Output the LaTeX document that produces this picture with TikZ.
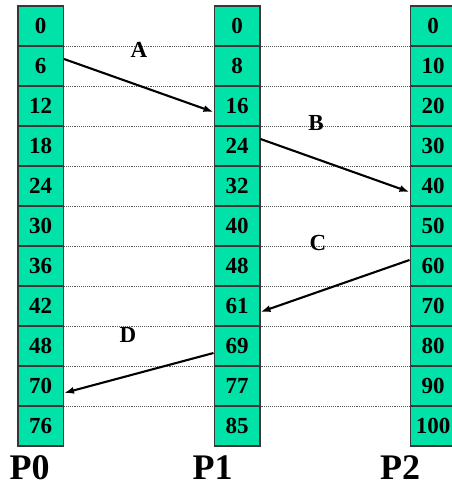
\documentclass[tikz,border=0pt]{standalone}
\usepackage{fontspec}
\setmainfont{Liberation Serif}
\usetikzlibrary{arrows.meta,positioning,calc}
\definecolor{zold}{RGB}{0,226,168}
\definecolor{keret}{RGB}{55,55,55}
\tikzset{
  cella/.style={draw=keret,line width=1.5pt,fill=zold,minimum width=45.5pt,minimum height=40pt,
                inner sep=0pt,font=\fontsize{23}{25}\selectfont\bfseries},
  pont/.style={densely dotted,gray!70!black,line width=0.9pt},
  nyil/.style={-{Latex[length=10pt,width=7pt]},line width=2.1pt},
  betu/.style={font=\fontsize{23}{25}\selectfont\bfseries,inner sep=0pt},
  proc/.style={font=\fontsize{36}{38}\selectfont\bfseries,inner sep=0pt},
}

\begin{document}
\begin{tikzpicture}[x=1pt,y=-1pt]
  \useasboundingbox (0,0) rectangle (452,488);
  % oszlopok
  \foreach \v [count=\i from 0] in {0,6,12,18,24,30,36,42,48,70,76}
    \node[cella] (p0-\i) at (40.5,26+40*\i) {\v};
  \foreach \v [count=\i from 0] in {0,8,16,24,32,40,48,61,69,77,85}
    \node[cella] (p1-\i) at (237,26+40*\i) {\v};
  \foreach \v [count=\i from 0] in {0,10,20,30,40,50,60,70,80,90,100}
    \node[cella] (p2-\i) at (433,26+40*\i) {\v};
  % szaggatott vonalak
  \foreach \i in {0,...,9}
    \draw[pont] (p0-\i.south east) -- (p1-\i.south west) (p1-\i.south east) -- (p2-\i.south west);
  % uzenetek
  \draw[nyil] ([yshift=7pt]p0-1.east) -- ([yshift=-6pt]p1-2.west);
  \draw[nyil] ([yshift=7pt]p1-3.east) -- ([yshift=-6pt]p2-4.west);
  \draw[nyil] ([yshift=6pt]p2-6.west) -- ([yshift=-6pt]p1-7.east);
  \draw[nyil] ([yshift=-7pt]p1-8.west) -- ([yshift=-7pt]p0-9.east);
  \node[betu] (a) at (139,50) {A};
  \node[betu] (b) at (316,123) {B};
  \node[betu] (c) at (318,243) {C};
  \node[betu] (d) at (128,335) {D};
  \node[proc] (n0) at (29.5,468) {P0};
  \node[proc] (n1) at (212.5,468) {P1};
  \node[proc] (n2) at (400,468) {P2};
\end{tikzpicture}
\end{document}
